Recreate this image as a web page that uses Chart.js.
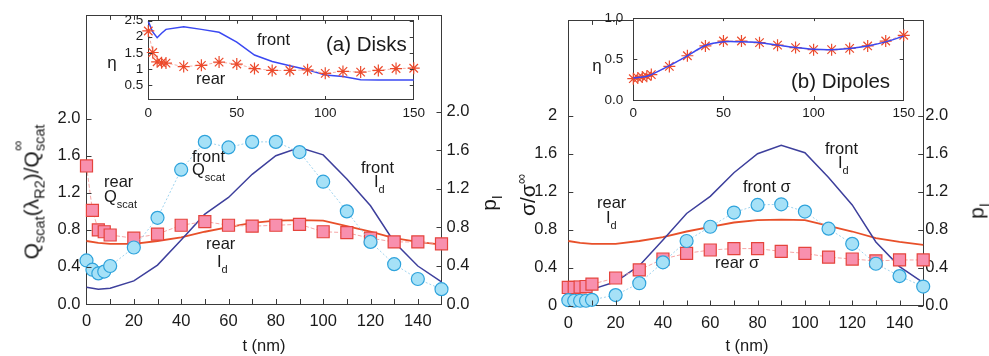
<!DOCTYPE html>
<html>
<head>
<meta charset="utf-8">
<script src="https://cdn.jsdelivr.net/npm/chart.js"></script>
<style>
  body { margin: 0; background: #fff; }
  #wrap { position: relative; width: 989px; height: 356px; font-family: "Liberation Sans", Arial, sans-serif; color: #1a1a1a; overflow: hidden; }
  canvas { position: absolute; }
  .lbl { position: absolute; white-space: nowrap; line-height: 1; font-size: 16.5px; }
  .sb { font-size: 11px; position: relative; top: 6px; }
  .sb2 { font-size: 14.5px; position: relative; top: 6px; }
  .st { position: relative; display: inline-block; }
  .st .up { position: absolute; left: 0; top: -10px; font-size: 14.5px; }
</style>
</head>
<body>
<div id="wrap">
  <canvas id="mainA" width="494" height="356" style="left:0;top:0"></canvas>
  <canvas id="mainB" width="495" height="356" style="left:494px;top:0"></canvas>
  <canvas id="insetA" width="330" height="125" style="left:100px;top:0"></canvas>
  <canvas id="insetB" width="340" height="125" style="left:580px;top:0"></canvas>
</div>
<script>
// thickness t (nm) for the marker series and the I_d curves
const tMarks = [0, 2.5, 5, 7.5, 10, 20, 30, 40, 50, 60, 70, 80, 90, 100, 110, 120, 130, 140, 150];
const tLine  = [0, 5, 10, 20, 30, 40, 50, 60, 70, 80, 90, 100, 110, 120, 130, 140, 150];

// intensity curves (same in both panels)
const frontId = [0.18, 0.16, 0.17, 0.25, 0.42, 0.69, 0.97, 1.15, 1.40, 1.60, 1.69, 1.61, 1.35, 1.06, 0.67, 0.41, 0.24];
const rearId  = [0.68, 0.66, 0.65, 0.65, 0.68, 0.72, 0.78, 0.83, 0.875, 0.90, 0.905, 0.90, 0.84, 0.78, 0.71, 0.67, 0.64];

// (a) disks
const frontQscat = [0.47, 0.37, 0.33, 0.35, 0.41, 0.61, 0.93, 1.45, 1.75, 1.69, 1.75, 1.75, 1.64, 1.32, 1.00, 0.67, 0.43, 0.27, 0.16];
const rearQscat  = [1.49, 1.01, 0.80, 0.78, 0.745, 0.71, 0.755, 0.85, 0.89, 0.85, 0.84, 0.85, 0.86, 0.78, 0.77, 0.71, 0.67, 0.67, 0.65];
const etaFrontDisks = [2.48, 2.15, 1.97, 2.11, 2.23, 2.31, 2.23, 2.14, 1.83, 1.43, 1.23, 1.10, 0.97, 0.81, 0.76, 0.66, 0.65, 0.65, 0.65];
const etaRearDisks  = [2.18, 1.51, 1.22, 1.19, 1.18, 1.07, 1.11, 1.21, 1.15, 1.01, 0.95, 0.95, 0.97, 0.86, 0.92, 0.90, 0.95, 1.01, 1.02];

// (b) dipoles
const frontSigma = [0.056, 0.05, 0.05, 0.05, 0.06, 0.11, 0.235, 0.455, 0.68, 0.83, 0.98, 1.06, 1.067, 0.99, 0.81, 0.65, 0.44, 0.31, 0.20];
const rearSigma  = [0.19, 0.19, 0.195, 0.2, 0.225, 0.29, 0.375, 0.49, 0.55, 0.585, 0.60, 0.60, 0.57, 0.55, 0.51, 0.49, 0.47, 0.48, 0.48];
const etaFrontDipoles = [0.27, 0.275, 0.28, 0.29, 0.31, 0.42, 0.54, 0.665, 0.71, 0.71, 0.70, 0.67, 0.64, 0.62, 0.615, 0.63, 0.66, 0.71, 0.78];
const etaRearDipoles  = [0.26, 0.27, 0.28, 0.29, 0.31, 0.41, 0.54, 0.66, 0.72, 0.72, 0.70, 0.67, 0.64, 0.615, 0.615, 0.63, 0.66, 0.72, 0.79];

// ticks
const mainYTicks  = [0, 0.4, 0.8, 1.2, 1.6, 2.0];
const mainXLabels = [0, 20, 40, 60, 80, 100, 120, 140];
const mainXMarks  = [10, 20, 30, 40, 50, 60, 70, 80, 90, 100, 110, 120, 130, 140];
const insetXTicks = [0, 50, 100, 150];
const disksYTicks = [0.5, 1, 1.5, 2, 2.5];
const dipolesYTicks = [0, 0.5, 1];

const FONT = 'Liberation Sans';
const AXIS = '#3a3a3a';

const pts = (xs, ys) => xs.map((x, i) => ({ x, y: ys[i] }));

// white plot background for the insets, inward tick marks (Matlab style)
const marksPlugin = {
  id: 'marks',
  beforeDraw(chart) {
    const m = chart.$marks;
    if (!m || !m.fill) return;
    const { ctx, chartArea: a } = chart;
    ctx.save();
    ctx.fillStyle = '#fff';
    ctx.fillRect(a.left, a.top, a.right - a.left, a.bottom - a.top);
    ctx.restore();
  },
  afterDraw(chart) {
    const m = chart.$marks;
    if (!m) return;
    const { ctx, chartArea: a, scales } = chart;
    const len = m.len;
    ctx.save();
    ctx.strokeStyle = AXIS;
    ctx.lineWidth = 1;
    ctx.beginPath();
    m.x.forEach(v => {
      const p = Math.round(scales.x.getPixelForValue(v)) + 0.5;
      ctx.moveTo(p, a.bottom); ctx.lineTo(p, a.bottom - len);
      ctx.moveTo(p, a.top); ctx.lineTo(p, a.top + len - 1);
    });
    m.y.forEach(v => {
      const p = Math.round(scales.y.getPixelForValue(v)) + 0.5;
      ctx.moveTo(a.left, p); ctx.lineTo(a.left + len, p);
    });
    m.y2.forEach(v => {
      const p = Math.round((scales.y2 || scales.y).getPixelForValue(v)) + 0.5;
      ctx.moveTo(a.right, p); ctx.lineTo(a.right - len, p);
    });
    ctx.stroke();
    ctx.restore();
  }
};

// nudge the layout padding until the plot area sits where the reference has it
function pin(c, box) {
  for (let k = 0; k < 3; k++) {
    const a = c.chartArea, p = c.options.layout.padding;
    p.left += box.left - a.left;
    p.top += box.top - a.top;
    p.right += a.right - box.right;
    p.bottom += a.bottom - box.bottom;
    c.update('none');
  }
}

function lineSet(xs, ys, color, w) {
  return { data: pts(xs, ys), showLine: true, borderColor: color, borderWidth: w, pointRadius: 0, clip: false };
}
function circleSet(xs, ys) {
  return { data: pts(xs, ys), showLine: true, borderColor: '#9fd3ee', borderWidth: 1, borderDash: [2, 2],
    pointStyle: 'circle', pointRadius: 6.5, pointBackgroundColor: '#a6e1f7', pointBorderColor: '#2ea3dc',
    pointBorderWidth: 1.2, clip: false };
}
function squareSet(xs, ys) {
  return { data: pts(xs, ys), showLine: true, borderColor: '#f6a6a6', borderWidth: 1, borderDash: [4, 2],
    pointStyle: 'rect', pointRadius: 8.5, pointBackgroundColor: '#f890ae', pointBorderColor: '#e5443d',
    pointBorderWidth: 1.2, clip: false };
}
function starSet(xs, ys) {
  return { data: pts(xs, ys), showLine: true, borderColor: '#f7b0a6', borderWidth: 1, borderDash: [3, 2],
    pointStyle: 'star', pointRadius: 6, pointBorderColor: '#ec4a2c', pointBorderWidth: 1.2, clip: false };
}

function fixedTicks(vals) {
  return s => { s.ticks = vals.map(v => ({ value: v })); };
}
const noGrid = { display: false, drawTicks: false };
const edge = { display: true, color: AXIS, width: 1 };

function mainChart(id, sets, o) {
  const c = new Chart(document.getElementById(id), {
    type: 'scatter',
    data: { datasets: sets },
    options: {
      responsive: false, animation: false, events: [],
      layout: { padding: { top: 0, left: 0, right: 0, bottom: 0 } },
      plugins: { legend: { display: false }, tooltip: { enabled: false } },
      scales: {
        x: { type: 'linear', min: 0, max: 150, grid: noGrid, border: edge,
          afterBuildTicks: fixedTicks(mainXLabels),
          ticks: { maxRotation: 0, autoSkip: false, padding: 8, color: '#1a1a1a', font: { family: FONT, size: 16.5 } } },
        xTop: { type: 'linear', position: 'top', min: 0, max: 150, grid: noGrid, border: edge,
          ticks: { display: false } },
        y: { min: 0, max: o.ymax, position: 'left', grid: noGrid, border: edge,
          afterBuildTicks: fixedTicks(mainYTicks),
          ticks: { padding: o.ypad, color: '#1a1a1a', font: { family: FONT, size: 16.5 }, callback: o.yfmt } },
        y2: { min: 0, max: 3.0, position: 'right', grid: noGrid, border: edge,
          afterBuildTicks: fixedTicks(mainYTicks),
          ticks: { padding: o.y2pad, color: '#1a1a1a', font: { family: FONT, size: 16.5 }, callback: v => v.toFixed(1) } }
      }
    },
    plugins: [marksPlugin]
  });
  c.$marks = { x: mainXMarks, y: mainYTicks, y2: mainYTicks, len: 5, fill: false };
  pin(c, o.box);
  return c;
}

function insetChart(id, sets, o) {
  const c = new Chart(document.getElementById(id), {
    type: 'scatter',
    data: { datasets: sets },
    options: {
      responsive: false, animation: false, events: [],
      layout: { padding: { top: 0, left: 0, right: 0, bottom: 0 } },
      plugins: { legend: { display: false }, tooltip: { enabled: false } },
      scales: {
        x: { type: 'linear', min: 0, max: 150, grid: noGrid, border: edge,
          afterBuildTicks: fixedTicks(insetXTicks),
          ticks: { maxRotation: 0, autoSkip: false, padding: 5, color: '#1a1a1a', font: { family: FONT, size: 13.5 } } },
        xTop: { type: 'linear', position: 'top', min: 0, max: 150, grid: noGrid, border: edge,
          ticks: { display: false } },
        y: { min: o.ymin, max: o.ymax, grid: noGrid, border: edge,
          afterBuildTicks: fixedTicks(o.yticks),
          ticks: { padding: o.ypad, color: '#1a1a1a', font: { family: FONT, size: 13.5 }, callback: o.yfmt } },
        yRight: { min: o.ymin, max: o.ymax, position: 'right', grid: noGrid, border: edge,
          ticks: { display: false } }
      }
    },
    plugins: [marksPlugin]
  });
  c.$marks = { x: insetXTicks.slice(1, 3), y: o.yticks, y2: o.yticks, len: 4, fill: true };
  pin(c, o.box);
  return c;
}

const NAVY = '#3d3f9c', RED = '#e8502a', BLUE = '#3a48f2';

mainChart('mainA', [
  circleSet(tMarks, frontQscat),
  squareSet(tMarks, rearQscat),
  lineSet(tLine, frontId, NAVY, 1.5),
  lineSet(tLine, rearId, RED, 1.8)
], { ymax: 3.11, ypad: 6, y2pad: 5, yfmt: v => v.toFixed(1),
     box: { left: 86.5, top: 8.5, right: 441.5, bottom: 304 } });

mainChart('mainB', [
  circleSet(tMarks, frontSigma),
  squareSet(tMarks, rearSigma),
  lineSet(tLine, frontId, NAVY, 1.5),
  lineSet(tLine, rearId, RED, 1.8)
], { ymax: 3.0, ypad: 11, y2pad: 2,
     yfmt: v => (v === 0 || v === 2) ? String(v) : v.toFixed(1),
     box: { left: 74.3, top: 8.5, right: 429.2, bottom: 305.5 } });

insetChart('insetA', [
  starSet(tMarks, etaRearDisks),
  lineSet(tMarks, etaFrontDisks, BLUE, 1.5)
], { ypad: 5, ymin: 0.03, ymax: 2.5, yticks: disksYTicks, yfmt: v => String(v),
     box: { left: 48.3, top: 20.7, right: 322.3, bottom: 100 } });

const dip = lineSet(tMarks, etaFrontDipoles, BLUE, 1.5);
dip.tension = 0.35;
insetChart('insetB', [
  dip,
  starSet(tMarks, etaRearDipoles)
], { ypad: 10, ymin: 0, ymax: 1.0, yticks: dipolesYTicks, yfmt: v => v.toFixed(1),
     box: { left: 53.3, top: 24, right: 324.5, bottom: 100 } });

// text labels
const wrap = document.getElementById('wrap');
function put(html, x, y, o = {}) {
  const d = document.createElement('div');
  d.className = 'lbl';
  d.innerHTML = html;
  d.style.left = x + 'px';
  d.style.top = y + 'px';
  if (o.size) d.style.fontSize = o.size + 'px';
  d.style.transform = o.rot ? 'translate(-50%,-50%) rotate(-90deg)' : (o.center ? 'translate(-50%,-50%)' : 'translateY(-50%)');
  wrap.appendChild(d);
}

// panel (a)
put('rear', 104, 181);
put('Q<span class="sb">scat</span>', 104, 196);
put('front', 192, 156);
put('Q<span class="sb">scat</span>', 192, 169);
put('rear', 206, 243);
put('I<span class="sb">d</span>', 217, 261);
put('front', 361, 167);
put('I<span class="sb">d</span>', 374, 181);
put('t (nm)', 264, 345, { center: true });
put('Q<span class="sb2">scat</span>(λ<span class="sb2">R2</span>)/Q<span class="st"><span class="up">∞</span><span class="sb2">scat</span></span>', 31, 192, { rot: true, size: 21 });
put('p<span class="sb2">I</span>', 488, 203, { rot: true, size: 21 });
put('front', 257, 39);
put('rear', 196, 78);
put('(a) Disks', 326, 44, { size: 20.5 });
put('η', 112, 62, { center: true, size: 17 });

// panel (b)
put('rear', 597, 202);
put('I<span class="sb">d</span>', 606, 217);
put('front σ', 743, 186);
put('rear σ', 715, 262);
put('front', 825, 148);
put('I<span class="sb">d</span>', 838, 162);
put('t (nm)', 747, 345, { center: true });
put('σ/σ<span style="font-size:14.5px;position:relative;top:-9px">∞</span>', 527, 195, { rot: true, size: 21 });
put('p<span class="sb2">I</span>', 976, 211, { rot: true, size: 21 });
put('(b) Dipoles', 791, 81, { size: 20.5 });
put('η', 597, 65, { center: true, size: 17 });
</script>
</body>
</html>
